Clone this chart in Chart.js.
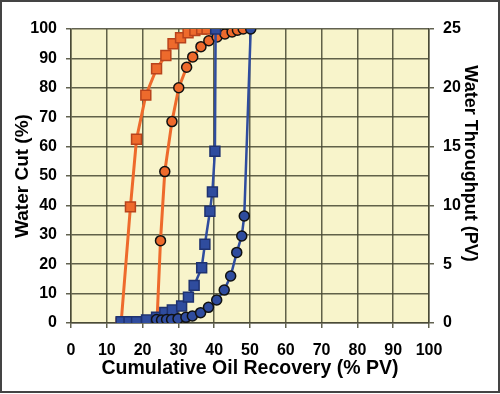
<!DOCTYPE html>
<html>
<head>
<meta charset="utf-8">
<script src="https://cdn.jsdelivr.net/npm/chart.js"></script>
<style>
  html, body { margin: 0; padding: 0; background: #fff; }
  #wrap { width: 500px; height: 394px; }
</style>
</head>
<body>
<div id="wrap"><canvas id="cutChart" width="500" height="394"></canvas></div>
<script>
const ctx = document.getElementById('cutChart');

// orange squares: water cut vs recovery
const sqRecovery = [14, 16.6, 18.3, 20.9, 23.9, 26.5, 28.5, 30.6, 32.7, 34.6, 36.5, 38];
const sqCut = [0, 39.5, 62.5, 77.5, 86.5, 91, 95, 97, 98.7, 99.5, 100, 100];

// orange circles: water cut vs recovery
const ciRecovery = [24, 25, 26.2, 28.2, 30.1, 32.3, 34, 36.3, 38.5, 40.8, 43, 45, 46.5, 48.1];
const ciCut = [0, 28, 51.5, 68.5, 80, 87, 90.5, 94, 96, 97.3, 98.3, 99, 99.6, 100];

// blue squares: water throughput (PV)
const bsRecovery = [14, 16.2, 18.3, 21.1, 23.9, 26.2, 28.3, 30.9, 32.8, 34.4, 36.5, 37.4, 38.8, 39.5, 40.2, 40.4];
const bsPV = [0.1, 0.1, 0.1, 0.25, 0.5, 0.9, 1.1, 1.45, 2.2, 3.2, 4.7, 6.7, 9.5, 11.15, 14.6, 25];

// blue circles: water throughput (PV)
const bcRecovery = [23.9, 25.3, 26.7, 28.1, 29.9, 32.1, 33.9, 36.2, 38.4, 40.7, 42.8, 44.6, 46.3, 47.7, 48.4, 50.2];
const bcPV = [0.3, 0.25, 0.3, 0.3, 0.37, 0.48, 0.6, 0.88, 1.33, 1.96, 2.8, 4.0, 6.0, 7.4, 9.1, 25];

const xTicks = [0, 10, 20, 30, 40, 50, 60, 70, 80, 90, 100];

const toPts = (xs, ys) => xs.map((x, i) => ({x: x, y: ys[i]}));

const orange = '#EE6A2C';
const blue = '#2F4C9E';
const gridCol = 'rgba(70,70,50,0.85)';
const font = 'Liberation Sans, Arial, sans-serif';

const plotBg = {
  id: 'plotBg',
  beforeDraw(chart) {
    const a = chart.chartArea;
    const c = chart.ctx;
    c.save();
    c.fillStyle = '#F8F4CB';
    c.fillRect(a.left, a.top, a.right - a.left, a.bottom - a.top);
    c.restore();
  },
  afterDraw(chart) {
    const c = chart.ctx;
    c.save();
    c.strokeStyle = '#444';
    c.lineWidth = 2;
    c.strokeRect(1, 1, 498, 391);
    c.restore();
  }
};

new Chart(ctx, {
  type: 'scatter',
  data: {
    datasets: [
      {
        label: 'Water cut A',
        data: toPts(sqRecovery, sqCut),
        yAxisID: 'y',
        showLine: true,
        borderColor: orange,
        borderWidth: 3,
        pointStyle: 'rect',
        pointRadius: 7,
        pointBackgroundColor: orange,
        pointBorderColor: '#B8431C',
        pointBorderWidth: 1.5,
        order: 3
      },
      {
        label: 'Water cut B',
        data: toPts(ciRecovery, ciCut),
        yAxisID: 'y',
        showLine: true,
        borderColor: orange,
        borderWidth: 3,
        pointStyle: 'circle',
        pointRadius: 5,
        pointBackgroundColor: orange,
        pointBorderColor: '#111',
        pointBorderWidth: 1.5,
        order: 2
      },
      {
        label: 'Throughput A',
        data: toPts(bsRecovery, bsPV),
        yAxisID: 'y2',
        showLine: true,
        borderColor: blue,
        borderWidth: 2.5,
        pointStyle: 'rect',
        pointRadius: 7,
        pointBackgroundColor: blue,
        pointBorderColor: '#1F3270',
        pointBorderWidth: 1.5,
        order: 1
      },
      {
        label: 'Throughput B',
        data: toPts(bcRecovery, bcPV),
        yAxisID: 'y2',
        showLine: true,
        borderColor: blue,
        borderWidth: 2.5,
        pointStyle: 'circle',
        pointRadius: 5,
        pointBackgroundColor: blue,
        pointBorderColor: '#111',
        pointBorderWidth: 1.5,
        order: 0
      }
    ]
  },
  options: {
    responsive: false,
    animation: false,
    layout: { padding: { top: 29, left: 0, right: 0, bottom: 0 } },
    plugins: { legend: { display: false }, tooltip: { enabled: false } },
    scales: {
      x: {
        type: 'linear',
        min: 0,
        max: 100,
        afterBuildTicks: s => { s.ticks = xTicks.map(v => ({value: v})); },
        afterFit: s => { s.height = 71; },
        grid: { color: gridCol, lineWidth: 1.5, tickLength: 5 },
        border: { color: gridCol, width: 1.5 },
        ticks: { color: '#000', padding: 13, maxRotation: 0, font: { family: font, size: 16, weight: 'bold' } },
        title: {
          display: true,
          text: 'Cumulative Oil Recovery (% PV)',
          color: '#000',
          padding: { top: 0, bottom: 14 },
          font: { family: font, size: 19.5, weight: 'bold' }
        }
      },
      y: {
        position: 'left',
        min: 0,
        max: 100,
        ticks: { stepSize: 10, color: '#000', padding: 9, font: { family: font, size: 16, weight: 'bold' } },
        afterFit: s => { s.width = 71; },
        grid: { color: gridCol, lineWidth: 1.5, tickLength: 5 },
        border: { color: gridCol, width: 1.5 },
        title: {
          display: true,
          text: 'Water Cut (%)',
          color: '#000',
          padding: { top: 11, bottom: 0 },
          font: { family: font, size: 19, weight: 'bold' }
        }
      },
      y2: {
        position: 'right',
        min: 0,
        max: 25,
        ticks: { stepSize: 5, color: '#000', padding: 9, font: { family: font, size: 16, weight: 'bold' } },
        afterFit: s => { s.width = 71; },
        grid: { drawOnChartArea: false, color: gridCol, lineWidth: 1.5, tickLength: 5 },
        border: { color: gridCol, width: 1.5 },
        title: {
          display: true,
          // trailing spaces nudge the title up like in the original
          text: 'Water Throughput (PV)     ',
          color: '#000',
          padding: { top: 19, bottom: 0 },
          font: { family: font, size: 18, weight: 'bold' }
        }
      }
    }
  },
  plugins: [plotBg]
});
</script>
</body>
</html>
